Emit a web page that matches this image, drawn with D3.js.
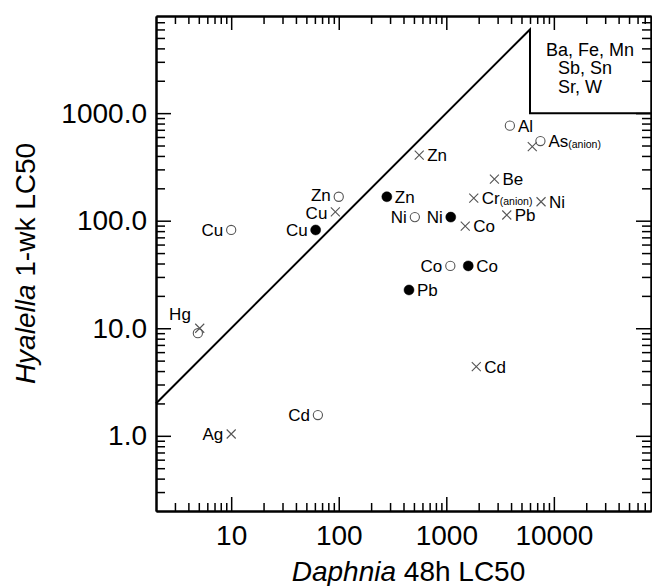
<!DOCTYPE html>
<html>
<head>
<meta charset="utf-8">
<script src="https://cdn.jsdelivr.net/npm/d3@7"></script>
<style>
  body { margin: 0; background: #fff; }
  svg text { font-family: "Liberation Sans", Arial, Helvetica, sans-serif; fill: #000; }
</style>
</head>
<body>
<div id="chart"></div>
<script>
// open circles
const openNames = ["Cu", "Zn", "Ni", "Co", "Cd", "Hg", "Al", "As(anion)"];
const openDaphnia = [10, 100, 510, 1090, 64, 4.9, 3900, 7500];
const openHyalella = [82, 167, 108, 38, 1.56, 9.0, 765, 550];

// filled circles
const filledNames = ["Cu", "Zn", "Ni", "Co", "Pb"];
const filledDaphnia = [61, 280, 1100, 1600, 450];
const filledHyalella = [82, 167, 108, 38, 22.7];

// crosses
const crossNames = ["Cu", "Zn", "Ni", "Co", "Pb", "Cd", "Hg", "Ag", "As", "Be", "Cr(anion)"];
const crossDaphnia = [93, 560, 7600, 1500, 3650, 1900, 5.1, 10, 6300, 2800, 1800];
const crossHyalella = [121, 408, 150, 89, 113, 4.4, 10, 1.04, 488, 243, 162];

// axes
const xTicks = [10, 100, 1000, 10000];
const xTickLabels = ["10", "100", "1000", "10000"];
const yTicks = [1, 10, 100, 1000];
const yTickLabels = ["1.0", "10.0", "100.0", "1000.0"];
const xDomain = [2, 80000];
const yDomain = [0.2, 8000];

// 1:1 line and the box of untested metals
const lineEnds = [2, 6000];
const boxBottom = 1000;
const boxText = ["Ba, Fe, Mn", "Sb, Sn", "Sr, W"];

const width = 652, height = 586;
const margins = { top: 16, left: 156, right: 1, bottom: 75 };

const svg = d3.select("#chart").append("svg")
    .attr("width", width)
    .attr("height", height);

const scaleX = d3.scaleLog().domain(xDomain).range([margins.left, width - margins.right]);
const scaleY = d3.scaleLog().domain(yDomain).range([height - margins.bottom, margins.top]);

function minorTicks(domain, majors) {
    const out = [];
    for (let e = -2; e <= 5; e++) {
        for (let m = 1; m < 10; m++) {
            const v = m * Math.pow(10, e);
            if (v > domain[0] * 1.0001 && v < domain[1] * 0.9999 && majors.indexOf(v) < 0) out.push(v);
        }
    }
    return out;
}
const xMinor = minorTicks(xDomain, xTicks);
const yMinor = minorTicks(yDomain, yTicks);

const bottom = height - margins.bottom;
const right = width - margins.right;

function styleAxis(g) {
    g.select(".domain").attr("stroke", "#000").attr("stroke-width", 2);
    g.selectAll(".tick line").attr("stroke", "#000").attr("stroke-width", 1.5);
    g.selectAll(".tick text").style("font-size", "28px");
}

// bottom
svg.append("g").attr("transform", "translate(0," + bottom + ")")
    .call(d3.axisBottom(scaleX).tickValues(xMinor).tickSize(-8).tickSizeOuter(0).tickFormat(""))
    .call(styleAxis);
svg.append("g").attr("transform", "translate(0," + bottom + ")")
    .call(d3.axisBottom(scaleX).tickValues(xTicks).tickSize(-14).tickSizeOuter(0).tickPadding(14)
        .tickFormat((d, i) => xTickLabels[i]))
    .call(styleAxis);
// top
svg.append("g").attr("transform", "translate(0," + margins.top + ")")
    .call(d3.axisTop(scaleX).tickValues(xMinor).tickSize(-8).tickSizeOuter(0).tickFormat(""))
    .call(styleAxis);
svg.append("g").attr("transform", "translate(0," + margins.top + ")")
    .call(d3.axisTop(scaleX).tickValues(xTicks).tickSize(-14).tickSizeOuter(0).tickFormat(""))
    .call(styleAxis);
// left
svg.append("g").attr("transform", "translate(" + margins.left + ",0)")
    .call(d3.axisLeft(scaleY).tickValues(yMinor).tickSize(-9).tickSizeOuter(0).tickFormat(""))
    .call(styleAxis);
svg.append("g").attr("transform", "translate(" + margins.left + ",0)")
    .call(d3.axisLeft(scaleY).tickValues(yTicks).tickSize(-15).tickSizeOuter(0).tickPadding(9)
        .tickFormat((d, i) => yTickLabels[i]))
    .call(styleAxis);
// right
svg.append("g").attr("transform", "translate(" + right + ",0)")
    .call(d3.axisRight(scaleY).tickValues(yMinor).tickSize(-9).tickSizeOuter(0).tickFormat(""))
    .call(styleAxis);
svg.append("g").attr("transform", "translate(" + right + ",0)")
    .call(d3.axisRight(scaleY).tickValues(yTicks).tickSize(-15).tickSizeOuter(0).tickFormat(""))
    .call(styleAxis);

// axis titles
svg.append("text")
    .attr("x", (margins.left + right) / 2 + 5)
    .attr("y", 581)
    .attr("text-anchor", "middle")
    .style("font-size", "28px")
    .call(t => {
        t.append("tspan").style("font-style", "italic").text("Daphnia");
        t.append("tspan").text(" 48h LC50");
    });

svg.append("text")
    .attr("transform", "translate(35," + ((margins.top + bottom) / 2) + ") rotate(-90)")
    .attr("text-anchor", "middle")
    .style("font-size", "28px")
    .call(t => {
        t.append("tspan").style("font-style", "italic").text("Hyalella");
        t.append("tspan").text(" 1-wk LC50");
    });

// 1:1 line and box
const linePts = [
    [lineEnds[0], lineEnds[0]],
    [lineEnds[1], lineEnds[1]],
    [lineEnds[1], boxBottom],
    [xDomain[1], boxBottom]
];
svg.append("path")
    .datum(linePts)
    .attr("fill", "none")
    .attr("stroke", "#000")
    .attr("stroke-width", 2)
    .attr("d", d3.line().x(d => scaleX(d[0])).y(d => scaleY(d[1])));

const boxX = scaleX(lineEnds[1]);
svg.append("g").selectAll("text")
    .data(boxText)
    .join("text")
    .attr("x", (d, i) => boxX + (i === 0 ? 16 : 28))
    .attr("y", (d, i) => 56 + i * 18.3)
    .style("font-size", "18px")
    .text(d => d);

// markers
const series = [
    { kind: "open", names: openNames, xs: openDaphnia, ys: openHyalella },
    { kind: "filled", names: filledNames, xs: filledDaphnia, ys: filledHyalella },
    { kind: "cross", names: crossNames, xs: crossDaphnia, ys: crossHyalella }
];
const points = [];
series.forEach(s => s.names.forEach((n, i) => points.push({ kind: s.kind, name: n, x: s.xs[i], y: s.ys[i] })));

const leftSide = ["open-Cu", "filled-Cu", "open-Zn", "cross-Cu", "open-Ni", "filled-Ni", "open-Co", "cross-Ag", "open-Cd"];
const noLabel = ["cross-As", "cross-Hg"];

const marks = svg.append("g");
points.forEach(p => {
    const cx = scaleX(p.x), cy = scaleY(p.y);
    if (p.kind === "cross") {
        marks.append("path")
            .attr("d", "M" + (cx - 4.5) + "," + (cy - 4.5) + "L" + (cx + 4.5) + "," + (cy + 4.5) +
                "M" + (cx - 4.5) + "," + (cy + 4.5) + "L" + (cx + 4.5) + "," + (cy - 4.5))
            .attr("stroke", "#555")
            .attr("stroke-width", 1.1);
    } else {
        marks.append("circle")
            .attr("cx", cx).attr("cy", cy)
            .attr("r", p.kind === "open" ? 4.6 : 5)
            .attr("fill", p.kind === "open" ? "#fff" : "#000")
            .attr("stroke", p.kind === "open" ? "#555" : "#000")
            .attr("stroke-width", p.kind === "open" ? 1.1 : 0.5);
    }
});

points.forEach(p => {
    const key = p.kind + "-" + p.name;
    if (noLabel.indexOf(key) >= 0) return;
    const cx = scaleX(p.x), cy = scaleY(p.y);
    const t = marks.append("text").style("font-size", "17px");
    // Zn (open) and Cu (cross) sit on top of each other: nudge apart a little
    const dy = key === "open-Zn" ? 4.5 : key === "cross-Cu" ? 7.5 : 6;
    if (key === "open-Hg") {
        t.attr("x", cx - 7).attr("y", cy - 13).attr("text-anchor", "end");
    } else if (leftSide.indexOf(key) >= 0) {
        t.attr("x", cx - 8).attr("y", cy + dy).attr("text-anchor", "end");
    } else {
        t.attr("x", cx + 8).attr("y", cy + dy).attr("text-anchor", "start");
    }
    const k = p.name.indexOf("(");
    if (k > 0) {
        t.append("tspan").text(p.name.slice(0, k));
        t.append("tspan").style("font-size", "10.5px").attr("dy", 1).text(p.name.slice(k));
    } else {
        t.text(p.name);
    }
});
</script>
</body>
</html>
